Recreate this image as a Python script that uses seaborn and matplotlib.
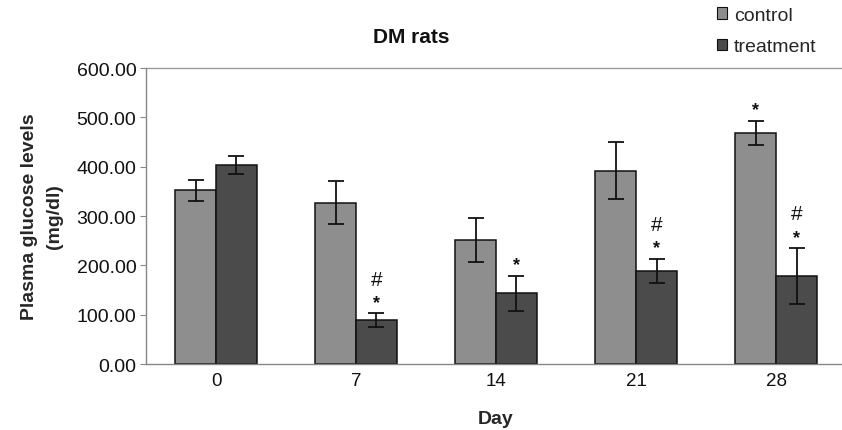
import matplotlib
matplotlib.use("Agg")
import matplotlib.pyplot as plt
from matplotlib.patches import Patch
import seaborn as sns
import pandas as pd
import numpy as np

# Plasma glucose in diabetic rats (mean ± SEM)
days = ["0", "7", "14", "21", "28"]
groups = ["control", "treatment"]
control_mean = [352, 327, 251, 392, 468]
control_sem = [22, 44, 44, 57, 25]
treatment_mean = [403, 89, 143, 189, 178]
treatment_sem = [18, 14, 36, 24, 57]
# significance marks above each bar (control row, treatment row)
control_marks = ["", "", "", "", "*"]
treatment_marks = ["", "*#", "*", "*#", "*#"]

df = pd.DataFrame({
    "Day": days * 2,
    "group": [groups[0]] * len(days) + [groups[1]] * len(days),
    "glucose": control_mean + treatment_mean,
})

sns.set_theme(style="white")
plt.rcParams["font.family"] = ["Liberation Sans", "DejaVu Sans"]

fig = plt.figure(figsize=(8.42, 4.31), dpi=100)
ax = fig.add_axes([0.1734, 0.1531, 0.8314, 0.6868])

palette = {"control": "#8e8e8e", "treatment": "#4b4b4b"}
sns.barplot(data=df, x="Day", y="glucose", hue="group", order=days,
            hue_order=groups, palette=palette, errorbar=None, width=0.585,
            gap=0, edgecolor="#111111", linewidth=1.1, saturation=1,
            legend=False, ax=ax)

sems = [control_sem, treatment_sem]
marks = [control_marks, treatment_marks]
for cont, sem, mk in zip(ax.containers, sems, marks):
    xs = [b.get_x() + b.get_width() / 2 for b in cont]
    hs = [b.get_height() for b in cont]
    ax.errorbar(xs, hs, yerr=sem, fmt="none", ecolor="#111111",
                elinewidth=1.3, capsize=5.5, capthick=1.3, zorder=4)
    for x, h, s, m in zip(xs, hs, sem, mk):
        if "*" in m:
            ax.text(x, h + s + 5, "*", ha="center", va="bottom",
                    fontsize=13, fontweight="bold", color="#111111")
        if "#" in m:
            ax.text(x, h + s + 50, "#", ha="center", va="bottom",
                    fontsize=15, color="#111111")

ax.set_ylim(0, 600)
ax.set_xlim(-0.5, 4.5)
ax.set_yticks(np.arange(0, 601, 100))
ax.set_yticklabels([f"{v:.2f}" for v in np.arange(0, 601, 100)],
                   fontsize=14, color="#111111")
ax.set_xticks(range(len(days)))
ax.set_xticklabels(days, fontsize=13.5, color="#111111")
ax.set_xticks(np.arange(0.5, 4.5, 1), minor=True)
ax.tick_params(axis="x", which="major", length=0, pad=6)
ax.tick_params(axis="x", which="minor", length=4, color="#888888", width=0.8)
ax.tick_params(axis="y", length=4, color="#888888", width=0.8, pad=3, left=True)

for side in ["top", "right"]:
    ax.spines[side].set_visible(False)
for side in ["left", "bottom"]:
    ax.spines[side].set_color("#888888")
    ax.spines[side].set_linewidth(1.0)
ax.axhline(600, color="#999999", linewidth=1.0, zorder=0, clip_on=False)

ax.set_xlabel("Day", fontsize=14, fontweight="bold", labelpad=15)
ax.set_ylabel("Plasma glucose levels\n(mg/dl)", fontsize=14,
              fontweight="bold", labelpad=10, linespacing=1.55)
fig.text(0.488, 0.912, "DM rats", ha="center", va="center",
         fontsize=15, fontweight="bold", color="#111111")

handles = [Patch(facecolor=palette[g], edgecolor="#111111", linewidth=0.8)
           for g in groups]
fig.legend(handles, groups, loc="upper left", bbox_to_anchor=(0.842, 1.0),
           frameon=False, fontsize=14, handlelength=0.55, handleheight=0.55,
           handletextpad=0.35, labelspacing=0.75, borderaxespad=0)

fig.savefig("out.png", dpi=100, facecolor="white")
